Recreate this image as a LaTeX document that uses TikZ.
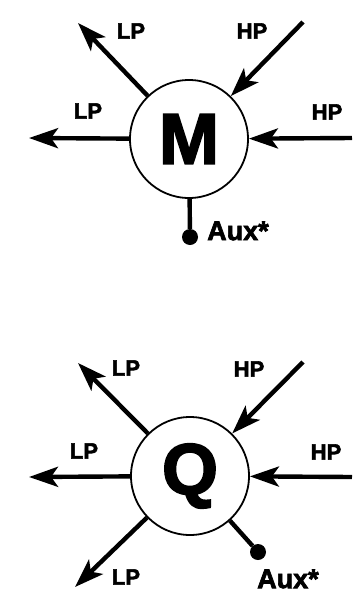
\documentclass[tikz,border=0pt]{standalone}
\usepackage{fontspec}
\setmainfont{Liberation Sans}
\newfontfamily\heavy[FakeBold=2.5]{Liberation Sans Bold}
\usetikzlibrary{arrows.meta}
\tikzset{
  unit/.style={circle,draw,fill=white,line width=1.8pt,minimum size=118pt,inner sep=0pt,
    font=\fontsize{72}{72}\heavy},
  pipe/.style={line width=4.4pt,-{Stealth[length=29pt,width=20pt,inset=7pt]}},
  tap/.style={line width=4.4pt},
  auxdot/.style={circle,fill,inner sep=0pt,minimum size=16pt},
  lbl/.style={inner sep=0pt,font=\fontsize{22}{22}\heavy},
  auxlbl/.style={inner sep=0pt,font=\fontsize{27}{27}\heavy}
}
\begin{document}
\begin{tikzpicture}[x=1pt,y=-1pt]
      \useasboundingbox (0,0) rectangle (363,595);

      \path
      (189,139) node[unit](M) {M}
      (78,23) coordinate(lpaM)
      (29,138) coordinate(lpbM)
      (303,22) coordinate(hpaM)
      (352,138) coordinate(hpbM)
      (190,237) node[auxdot](auxM) {}
      ;

      \draw[pipe] (M) to (lpaM);
      \draw[pipe] (M) to (lpbM);
      \draw[pipe] (hpaM) to (M);
      \draw[pipe] (hpbM) to (M);
      \draw[tap] (M) to (auxM);

      \path
      (131,31) node[lbl](lpaMt) {LP}
      (252,31) node[lbl](hpaMt) {HP}
      (88,111) node[lbl](lpbMt) {LP}
      (327,112) node[lbl](hpbMt) {HP}
      (207,231) node[auxlbl,anchor=west](auxMt) {Aux*}
      ;

      \path
      (190,476) node[unit](Q) {Q}
      (78,363) coordinate(lpaQ)
      (29,477) coordinate(lpbQ)
      (75,587) coordinate(lpcQ)
      (303,362) coordinate(hpaQ)
      (352,477) coordinate(hpbQ)
      (258,552) node[auxdot](auxQ) {}
      ;

      \draw[pipe] (Q) to (lpaQ);
      \draw[pipe] (Q) to (lpbQ);
      \draw[pipe] (Q) to (lpcQ);
      \draw[pipe] (hpaQ) to (Q);
      \draw[pipe] (hpbQ) to (Q);
      \draw[tap] (Q) to (auxQ);

      \path
      (126,368) node[lbl](lpaQt) {LP}
      (249,369) node[lbl](hpaQt) {HP}
      (84,451) node[lbl](lpbQt) {LP}
      (326,452) node[lbl](hpbQt) {HP}
      (126,577) node[lbl](lpcQt) {LP}
      (257,579) node[auxlbl,anchor=west](auxQt) {Aux*}
      ;
    \end{tikzpicture}
\end{document}
